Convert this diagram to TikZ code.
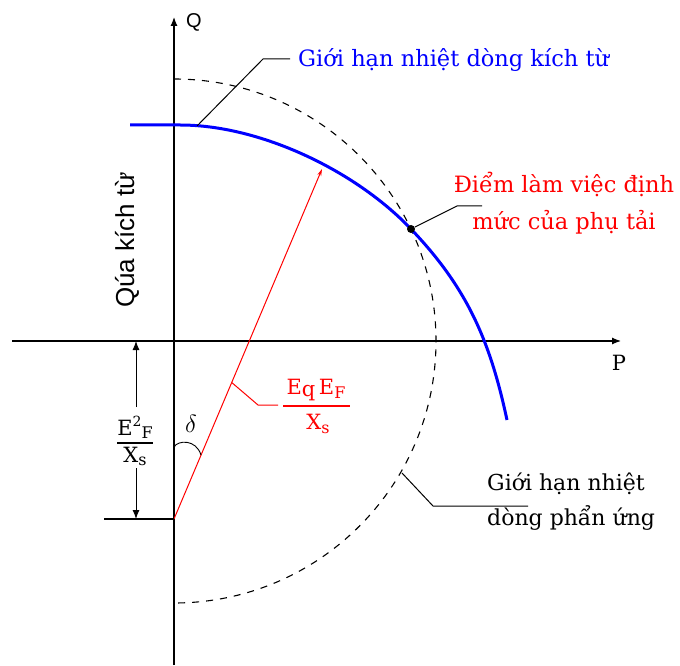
\documentclass[tikz,border=0pt]{standalone}
\usepackage{fontspec}
\setmainfont{DejaVu Serif}
\setsansfont{Liberation Sans}
\usetikzlibrary{arrows.meta,calc}
\begin{document}
\begin{tikzpicture}[x=1pt,y=1pt,
  axis/.style={line width=1.2pt},
  lead/.style={line width=1pt},
  blu/.style={blue, line width=3pt},
  dsh/.style={line width=1.1pt, dash pattern=on 7pt off 7pt},
  lbl/.style={font=\fontsize{22.5}{36}\selectfont, inner sep=0pt},
  frm/.style={font=\fontsize{21}{24}\selectfont, inner sep=0pt},
  tip/.style={-{Latex[length=9pt,width=7pt]}},
]
\useasboundingbox (0,0) rectangle (680,665);
\coordinate (O) at (174,324);
\coordinate (E0) at (174,146);
% axes
\draw[axis,tip] (174,0) -- (174,648) coordinate (Qtip);
\draw[axis,tip] (12,324) -- (621,324) coordinate (Ptip);
\node[font=\sffamily\fontsize{20}{22}\selectfont, anchor=west, inner sep=0pt] (Q) at (186,643) {Q};
\node[font=\fontsize{21}{22}\selectfont, inner sep=0pt] (P) at (619,302) {P};
% armature limit (dashed circle)
\draw[dsh] (174,586) arc (90:-90:262);
% field limit (blue)
\draw[blu, line join=round] (130,540) -- (180,540)
  .. controls (260,540) and (354.8,494.6) .. (410,437)
  .. controls (466.6,378) and (489.8,325.4) .. (507,245);
% red vector
\coordinate (Rtip) at (322,496);
\draw[red, line width=1pt, -{Stealth[length=7pt,width=4pt]}] (E0) -- (Rtip);
% operating point
\node[circle, fill=black, inner sep=0pt, minimum size=8pt] (op) at (411,436) {};
% delta
\draw[line width=0.9pt] (174,218) .. controls (178,225) and (196,226) .. (201,210);
\node[font=\fontsize{26}{28}\selectfont, inner sep=0pt] (dl) at (191,241) {$\delta$};
% extension line and dimension
\draw[axis] (104,146) -- (E0);
\draw[line width=1pt, -{Latex[length=9pt,width=7pt]}] (136,258) -- (136,324);
\draw[line width=1pt, -{Latex[length=9pt,width=7pt]}] (136,197) -- (136,146);
\node[frm, anchor=base] (nl) at (135,230) {E\raisebox{8pt}{\fontsize{14}{14}\selectfont 2}\raisebox{-3pt}{\fontsize{16}{16}\selectfont F}};
\draw[line width=1.2pt] (117,222) -- (153,222);
\node[frm, anchor=base] (dlx) at (135,203) {X\raisebox{-3pt}{\fontsize{16}{16}\selectfont s}};
% red formula
\draw[red, lead] ($(E0)!0.39!(Rtip)$) coordinate (rl) -- (258,260) -- (278,260);
\node[red, frm, anchor=base] (nr) at (316,271) {E\raisebox{-2pt}{q}\,E\raisebox{-4pt}{\fontsize{16}{16}\selectfont F}};
\draw[red, line width=1.5pt] (283,259) -- (350,259);
\node[red, frm, anchor=base] (dr) at (318,236) {X\raisebox{-4pt}{\fontsize{16}{16}\selectfont s}};
% labels
\node[rotate=90, font=\sffamily\fontsize{26}{28}\selectfont, inner sep=0pt] (qk) at (127,425) {Qúa kích từ};
\draw[lead] (197,539) -- (263,606) -- (290,606);
\node[blue, lbl, anchor=west] (gb) at (298,605) {Giới hạn nhiệt dòng kích từ};
\draw[lead] (op) -- (457,459) -- (482,459);
\node[red, lbl, align=center, font=\fontsize{22.5}{37}\selectfont] (dm) at (564,462) {Điểm làm việc định\\mức của phụ tải};
\draw[lead] (402,192) -- (433,159) -- (528,159);
\node[lbl, align=left, anchor=west, font=\fontsize{22}{35}\selectfont] (ga) at (487,163) {Giới hạn nhiệt\\dòng phẩn ứng};
\end{tikzpicture}
\end{document}
